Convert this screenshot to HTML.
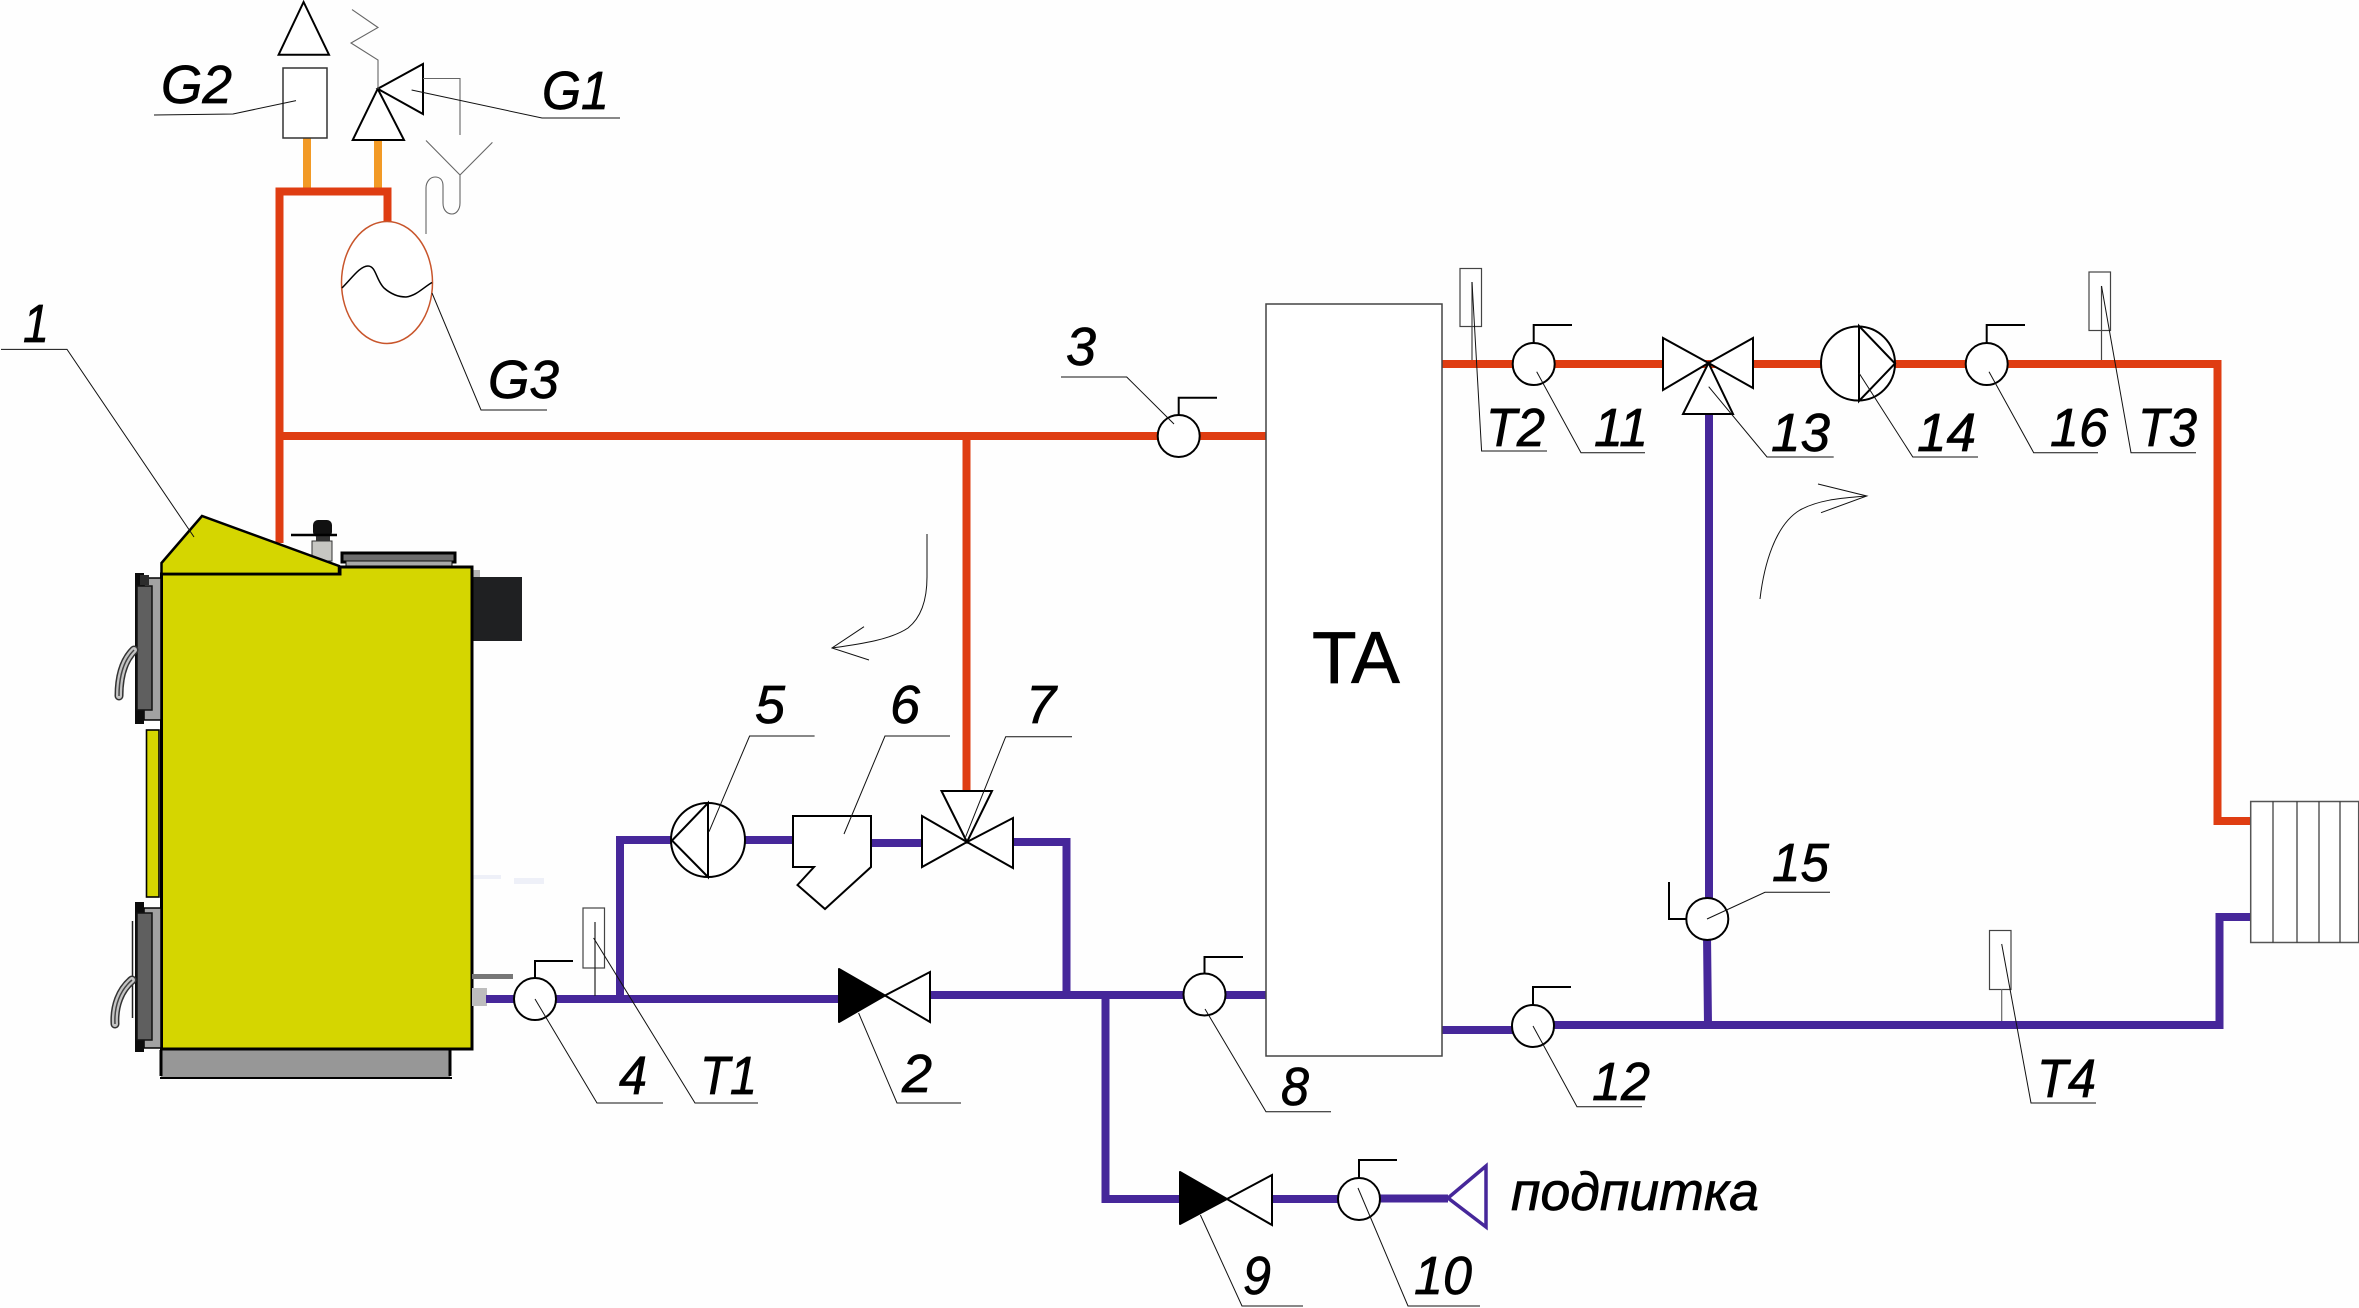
<!DOCTYPE html>
<html><head><meta charset="utf-8"><style>
html,body{margin:0;padding:0;background:#fefefe}
svg{display:block}
text{font-family:"Liberation Sans",sans-serif;font-style:italic;font-size:54px;fill:#000;stroke:#000;stroke-width:.7}
.p{fill:none;stroke-width:8}
.r{stroke:#df3d12}.v{stroke:#46279a}.o{stroke:#f29a26}
.s{fill:#fff;stroke:#000;stroke-width:2;stroke-linejoin:miter}
.n{fill:none;stroke:#000;stroke-width:2}
.l{fill:none;stroke:#111;stroke-width:1}
.g{fill:none;stroke:#666;stroke-width:1.1}
</style></head><body>
<svg width="2359" height="1308" viewBox="0 0 2359 1308" xmlns="http://www.w3.org/2000/svg">
<rect width="2359" height="1308" fill="#fefefe"/>

<!-- faint marks -->
<rect x="473" y="875" width="28" height="4" fill="#eef0f8"/>
<rect x="514" y="878" width="30" height="6" fill="#eef0f8"/>

<!-- pipes -->
<path class="p o" d="M307 138V188M378 140V188"/>
<path class="p r" d="M279.5 543V191.5H387.5V222"/>
<path class="p r" d="M283 436H1266M966.5 436V791"/>
<path class="p r" d="M1442 364H2217.5V821H2251"/>
<path class="p v" d="M487 999H839M930 995H1266M620 999V840H672M743 840H793M871 843H922M1014 842H1066.5V995M1105.5 995V1199H1180M1272 1199H1338M1380 1198.5H1448"/>
<path class="p v" d="M1442 1030H1513M1554 1025H2219.5V917H2251M1709 414V900M1707 935L1708 1025"/>

<!-- boiler -->
<g>
<rect x="161" y="1050" width="289" height="28" fill="#979797"/>
<path d="M161 1050V1076M450 1050V1076" stroke="#000" stroke-width="3"/>
<path d="M160 1078H452" stroke="#000" stroke-width="2"/>
<rect x="312" y="541" width="20" height="20" fill="#c6c6c2" stroke="#333" stroke-width="1"/>
<rect x="313" y="520" width="19" height="17" rx="5" fill="#111"/>
<rect x="316" y="534" width="14" height="7" fill="#333"/>
<path d="M291 535H337" stroke="#000" stroke-width="2.5"/>
<rect x="342" y="553" width="113" height="9" fill="#6c6c6c" stroke="#000" stroke-width="3"/>
<rect x="346" y="561" width="106" height="6" fill="#a8a8a8" stroke="#111" stroke-width="1"/>
<rect x="472" y="570" width="8" height="10" fill="#b5b5b5"/>
<rect x="472" y="577" width="50" height="64" fill="#1f2022"/>
<path d="M161.5 574H340V567H472V1049H161.5Z" fill="#d5d600" stroke="#000" stroke-width="3"/>
<path d="M161.5 563L202 516L339 566V574H161.5Z" fill="#d5d600" stroke="#000" stroke-width="2.5"/>
<path d="M160 574H340" stroke="#000" stroke-width="2.5"/>
<!-- upper door -->
<rect x="144" y="578" width="17" height="142" fill="#a2a2a2" stroke="#000" stroke-width="1.5"/>
<rect x="135" y="573" width="9" height="151" fill="#0c0c0c"/>
<rect x="137" y="586" width="15" height="124" fill="#5f5f5f" stroke="#111" stroke-width="1.5"/>
<rect x="140" y="575" width="9" height="10" fill="#2c2c2c"/>
<path d="M134 650C124 660 119 676 119 696" fill="none" stroke="#333" stroke-width="9" stroke-linecap="round"/>
<path d="M134 650C124 660 119 676 119 696" fill="none" stroke="#c4c4c4" stroke-width="6" stroke-linecap="round"/>
<path d="M134 650C124 660 119 676 119 696" fill="none" stroke="#444" stroke-width="1.5"/>
<!-- mid panel -->
<rect x="146.5" y="730" width="12.5" height="167" fill="#d5d600" stroke="#000" stroke-width="1.6"/>
<!-- lower door -->
<rect x="144" y="908" width="17" height="140" fill="#a2a2a2" stroke="#000" stroke-width="1.5"/>
<rect x="135" y="902" width="9" height="150" fill="#0c0c0c"/>
<rect x="137" y="913" width="15" height="127" fill="#5f5f5f" stroke="#111" stroke-width="1.5"/>
<path d="M132.5 921V1018" stroke="#222" stroke-width="1.5"/>
<path d="M132 980C120 990 114 1006 115 1024" fill="none" stroke="#333" stroke-width="9" stroke-linecap="round"/>
<path d="M132 980C120 990 114 1006 115 1024" fill="none" stroke="#c4c4c4" stroke-width="6" stroke-linecap="round"/>
<path d="M132 980C120 990 114 1006 115 1024" fill="none" stroke="#444" stroke-width="1.5"/>
<!-- fittings -->
<rect x="472" y="974" width="41" height="5" fill="#777"/>
<rect x="472" y="988" width="15" height="18" fill="#bdbdbd"/>
</g>
<path class="p v" d="M486 999H514"/>

<!-- G2, G1 -->
<path class="s" d="M303.6 2L329 54.7H278.6Z"/>
<rect x="283" y="68" width="44" height="70" fill="#fff" stroke="#333" stroke-width="1.5"/>
<path class="s" d="M377.7 88.8L404 140H352.7Z"/>
<path class="s" d="M377.7 88.8L423 64V114Z"/>
<path class="g" d="M352 9.6L378 27.5L351 43L378 60V88.8"/>
<path class="g" d="M423 78.5H460V135"/>
<path class="g" d="M426 140.5L460 175L492.4 142.4M460 175V203C460 210 456 214 452 214C447 214 443 210 443 203V186C443 180 440 177 435 177C430 177 426 182 426 188V234"/>

<!-- G3 -->
<ellipse cx="387" cy="282.5" rx="45.5" ry="61" fill="#fff" stroke="#c8552b" stroke-width="1.5"/>
<path d="M342 288C352 278 360 266 368 266C376 266 376 280 384 288C392 295 400 297 406 297C416 296 424 287 432 282.5" fill="none" stroke="#000" stroke-width="1.5"/>

<!-- TA -->
<rect x="1266" y="304" width="176" height="752" fill="#fff" stroke="#444" stroke-width="1.5"/>
<text x="1312" y="683" style="font-style:normal;font-size:73px">TA</text>

<!-- pump 5 -->
<circle cx="708" cy="840" r="37" class="s"/>
<path class="n" d="M708 803V877L672 840.5Z"/>
<!-- filter 6 -->
<path class="s" d="M793 816H871V867L825 909L797.5 885L814 867H793Z"/>
<!-- valve 7 -->
<path class="s" d="M967 842L922 816V867Z"/>
<path class="s" d="M967 842L1013 818V868Z"/>
<path class="s" d="M967 842L941.5 791H992Z"/>
<!-- valve 2 -->
<path d="M885 995.5L839 969V1022Z" fill="#000" stroke="#000" stroke-width="2" stroke-linejoin="round"/>
<path class="s" d="M885 995.5L930 972V1022Z"/>
<!-- valve 9 -->
<path d="M1227 1199L1180 1172V1224Z" fill="#000" stroke="#000" stroke-width="2" stroke-linejoin="round"/>
<path class="s" d="M1227 1199L1272 1175V1225Z"/>
<!-- feed funnel -->
<path d="M1448 1198L1486 1166V1227Z" fill="#fff" stroke="#46279a" stroke-width="3.5"/>
<!-- valve 13 -->
<path class="s" d="M1708.5 363L1663 338V390Z"/>
<path class="s" d="M1708.5 363L1753 338V388Z"/>
<path class="s" d="M1708.5 363L1683 414H1733Z"/>
<!-- pump 14 -->
<ellipse cx="1858" cy="363.5" rx="37" ry="37" class="s"/>
<path class="n" d="M1859 326V401L1895 363.5Z"/>

<!-- gauges -->
<g>
<circle class="s" cx="1178.7" cy="436" r="21"/><path class="n" d="M1178.7 415V397.7H1217"/>
<circle class="s" cx="535" cy="999" r="21"/><path class="n" d="M535 978V961H573"/>
<circle class="s" cx="1204.5" cy="994.5" r="21"/><path class="n" d="M1204.5 973V957H1243"/>
<circle class="s" cx="1359" cy="1199" r="21"/><path class="n" d="M1359 1178V1160H1397"/>
<circle class="s" cx="1533.7" cy="364" r="21"/><path class="n" d="M1533.7 343V325H1572"/>
<circle class="s" cx="1533" cy="1026" r="21"/><path class="n" d="M1533 1005V987H1571"/>
<circle class="s" cx="1986.7" cy="364" r="21"/><path class="n" d="M1986.7 343V325H2025"/>
<circle class="s" cx="1707.3" cy="919" r="21"/><path class="n" d="M1686 919H1669V882"/>
</g>

<!-- sensors -->
<rect x="583" y="908" width="21.5" height="60" fill="#fff" stroke="#444" stroke-width="1.2"/>
<path d="M595 922V996" fill="none" stroke="#222" stroke-width="1.2"/>
<rect x="1460" y="268.5" width="21.5" height="58" fill="#fff" stroke="#444" stroke-width="1.2"/>
<path d="M1472 282V360" fill="none" stroke="#444" stroke-width="1.2"/>
<rect x="2089" y="272" width="21.5" height="58.5" fill="#fff" stroke="#444" stroke-width="1.2"/>
<path d="M2101.5 286V360" fill="none" stroke="#444" stroke-width="1.2"/>
<rect x="1989.5" y="930.5" width="21.5" height="59" fill="#fff" stroke="#444" stroke-width="1.2"/>
<path d="M2001.7 989V1021" fill="none" stroke="#666" stroke-width="1.2"/>

<!-- radiator -->
<rect x="2250.7" y="801.5" width="108" height="141" fill="#fff" stroke="#555" stroke-width="1.5"/>
<path d="M2273 801.5V942.5M2297 801.5V942.5M2319 801.5V942.5M2340 801.5V942.5" stroke="#333" stroke-width="1.2" fill="none"/>

<!-- flow arrows -->
<path class="l" d="M927 534V577C927 605 918 620 908 628C890 640 860 644 832 648"/>
<path class="l" d="M864 626.7L832 648L869 660"/>
<path class="l" d="M1760 599C1764 565 1775 525 1800 510C1820 499 1845 498 1866 496"/>
<path class="l" d="M1818 484L1866.8 496L1821 512.7"/>

<!-- leaders -->
<path class="l" d="M1 349.4H67L194 537"/>
<path class="l" d="M296 100.6L233 114L154 115"/>
<path class="l" d="M411.6 90L542 118H620"/>
<path class="l" d="M432 293L481 410H547"/>
<path class="l" d="M1174 424L1126.7 377H1061"/>
<path class="l" d="M709 831.7L749.6 736H814.6"/>
<path class="l" d="M844 834L885 736H950"/>
<path class="l" d="M965.7 836.7L1005.7 736.7H1072"/>
<path class="l" d="M535 999L597 1103H663"/>
<path class="l" d="M593.6 938L695 1103H758"/>
<path class="l" d="M858.6 1013L897 1103H961"/>
<path class="l" d="M1205 1009L1266 1111.7H1331"/>
<path class="l" d="M1533 1026L1577 1106.7H1642"/>
<path class="l" d="M1200.4 1215L1242 1306H1303"/>
<path class="l" d="M1358 1188L1408 1306H1480"/>
<path class="l" d="M1472 282L1481.6 451H1547"/>
<path class="l" d="M1536.7 371.7L1581 452.7H1645"/>
<path class="l" d="M1708.7 386.7L1767 457H1833.7"/>
<path class="l" d="M1859 373L1912.8 457H1978"/>
<path class="l" d="M1989 371.7L2033.7 452.7H2098"/>
<path class="l" d="M2101.5 286L2131 452.7H2196"/>
<path class="l" d="M1707 919L1765 892.3H1830"/>
<path class="l" d="M2001.7 944L2031 1103H2096"/>

<!-- labels -->
<text x="23" y="342" textLength="26" lengthAdjust="spacingAndGlyphs">1</text>
<text x="161" y="103" textLength="71" lengthAdjust="spacingAndGlyphs">G2</text>
<text x="542" y="109" textLength="67" lengthAdjust="spacingAndGlyphs">G1</text>
<text x="488" y="398" textLength="71" lengthAdjust="spacingAndGlyphs">G3</text>
<text x="1066" y="365">3</text>
<text x="755" y="723">5</text>
<text x="890" y="723">6</text>
<text x="1026" y="723">7</text>
<text x="619" y="1094" textLength="28" lengthAdjust="spacingAndGlyphs">4</text>
<text x="700" y="1094" textLength="57" lengthAdjust="spacingAndGlyphs">T1</text>
<text x="902" y="1092">2</text>
<text x="1281" y="1105" textLength="28" lengthAdjust="spacingAndGlyphs">8</text>
<text x="1592" y="1100" textLength="58" lengthAdjust="spacingAndGlyphs">12</text>
<text x="1243" y="1294" textLength="28" lengthAdjust="spacingAndGlyphs">9</text>
<text x="1414" y="1294" textLength="58" lengthAdjust="spacingAndGlyphs">10</text>
<text x="1511" y="1210" textLength="248" lengthAdjust="spacingAndGlyphs">подпитка</text>
<text x="1486" y="446" textLength="59" lengthAdjust="spacingAndGlyphs">T2</text>
<text x="1594" y="446" textLength="54" lengthAdjust="spacingAndGlyphs">11</text>
<text x="1771" y="451" textLength="59" lengthAdjust="spacingAndGlyphs">13</text>
<text x="1917" y="451" textLength="59" lengthAdjust="spacingAndGlyphs">14</text>
<text x="2050" y="446" textLength="58" lengthAdjust="spacingAndGlyphs">16</text>
<text x="2138" y="446" textLength="59" lengthAdjust="spacingAndGlyphs">T3</text>
<text x="1772" y="881" textLength="57" lengthAdjust="spacingAndGlyphs">15</text>
<text x="2037" y="1097" textLength="59" lengthAdjust="spacingAndGlyphs">T4</text>
</svg>
</body></html>
